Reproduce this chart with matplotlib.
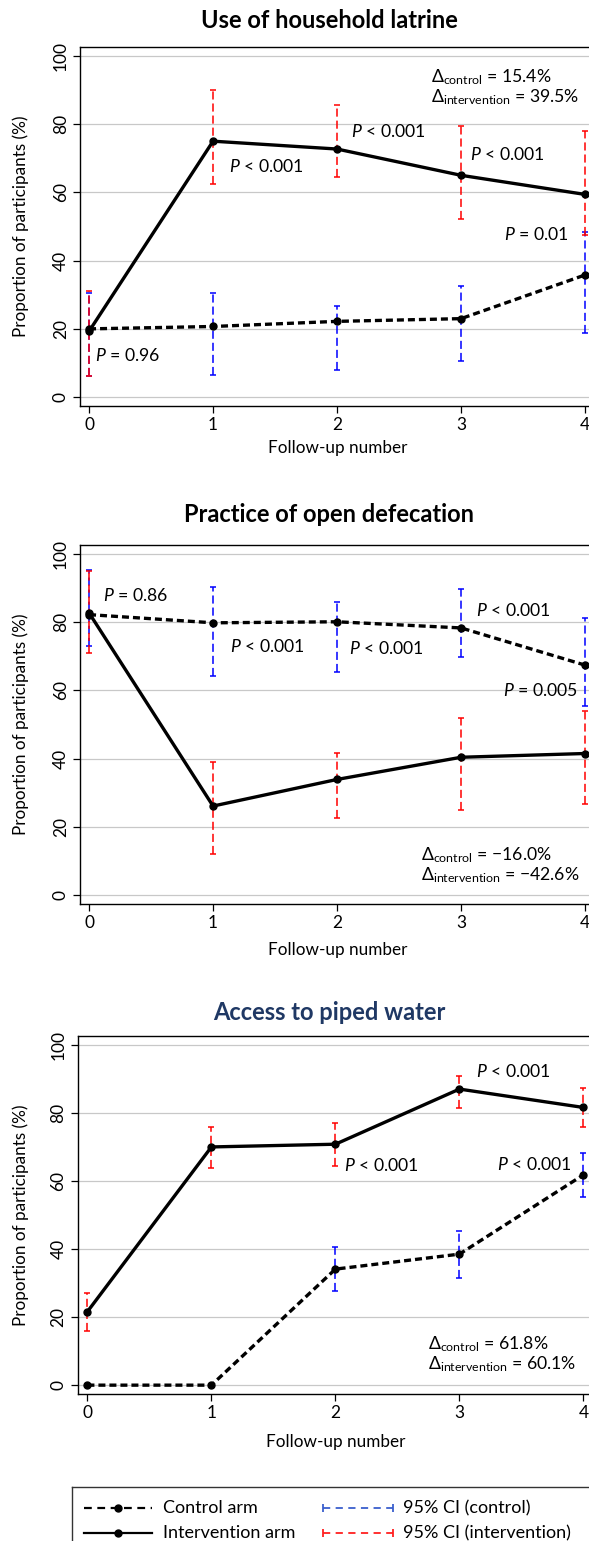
import matplotlib
matplotlib.use("Agg")
import matplotlib.pyplot as plt
import numpy as np

# ---------------------------------------------------------------------------
# Fonts
# ---------------------------------------------------------------------------
plt.rcParams.update({
    "font.family": ["Lato", "DejaVu Sans"],
    "mathtext.fontset": "custom",
    "mathtext.rm": "Lato",
    "mathtext.it": "Lato:italic",
    "mathtext.bf": "Lato:bold",
})

TITLE_SIZE = 17
LABEL_SIZE = 12.3
TICK_SIZE = 12.5
NOTE_SIZE = 12.7
LEGEND_SIZE = 13

COL_CTRL_CI = "#0000ff"
COL_INT_CI = "#ff0000"

# ---------------------------------------------------------------------------
# Data
# ---------------------------------------------------------------------------
follow_up = [0, 1, 2, 3, 4]

# Use of household latrine
latrine_ctrl = [20.0, 20.7, 22.2, 23.0, 35.8]
latrine_ctrl_lo = [6.1, 6.4, 7.9, 10.7, 18.7]
latrine_ctrl_hi = [30.6, 30.4, 26.6, 32.5, 48.4]
latrine_int = [19.3, 75.0, 72.7, 65.0, 59.4]
latrine_int_lo = [6.1, 62.5, 64.5, 52.3, 47.4]
latrine_int_hi = [31.2, 89.9, 85.6, 79.4, 77.9]
latrine_p = ["$P$ = 0.96", "$P$ < 0.001", "$P$ < 0.001", "$P$ < 0.001", "$P$ = 0.01"]
latrine_delta = ["15.4%", "39.5%"]

# Practice of open defecation
opendef_ctrl = [82.2, 79.8, 80.1, 78.3, 67.4]
opendef_ctrl_lo = [72.9, 64.2, 65.4, 69.7, 55.4]
opendef_ctrl_hi = [95.4, 90.3, 85.9, 89.6, 81.3]
opendef_int = [82.7, 26.1, 33.9, 40.4, 41.5]
opendef_int_lo = [71.0, 12.1, 22.7, 24.9, 26.8]
opendef_int_hi = [94.9, 39.1, 41.7, 52.0, 53.9]
opendef_p = ["$P$ = 0.86", "$P$ < 0.001", "$P$ < 0.001", "$P$ < 0.001", "$P$ = 0.005"]
opendef_delta = ["\u221216.0%", "\u221242.6%"]

# Access to piped water
water_ctrl = [0.0, 0.0, 34.1, 38.5, 61.8]
water_ctrl_lo = [np.nan, np.nan, 27.8, 31.6, 55.3]
water_ctrl_hi = [np.nan, np.nan, 40.7, 45.3, 68.3]
water_int = [21.6, 70.0, 70.8, 87.0, 81.6]
water_int_lo = [15.9, 63.8, 64.5, 81.3, 75.9]
water_int_hi = [27.0, 76.0, 76.9, 90.9, 87.2]
water_p = ["$P$ < 0.001", "$P$ < 0.001", "$P$ < 0.001"]
water_delta = ["61.8%", "60.1%"]

# ---------------------------------------------------------------------------
# Layout (pixels of the 589 x 1541 canvas)
# ---------------------------------------------------------------------------
W, H, DPI = 589, 1541, 100
X_UNIT = 124.0          # pixels per follow-up step
YLIM = (-2.6, 102.6)

panels = [
    dict(title="Use of household latrine", title_color="black", title_y=20,
         left=80, top=47, bottom=406, xmin=-0.073, xlabel_y=448,
         ctrl=latrine_ctrl, ctrl_lo=latrine_ctrl_lo, ctrl_hi=latrine_ctrl_hi,
         inter=latrine_int, int_lo=latrine_int_lo, int_hi=latrine_int_hi,
         p=latrine_p, p_pos=[(0.05, 12.1), (1.13, 67.6), (2.11, 77.9), (3.07, 71.1), (3.35, 47.8)],
         delta=latrine_delta, delta_pos=(2.76, 93.8, 87.9)),
    dict(title="Practice of open defecation", title_color="black", title_y=515,
         left=80, top=545, bottom=904, xmin=-0.073, xlabel_y=950,
         ctrl=opendef_ctrl, ctrl_lo=opendef_ctrl_lo, ctrl_hi=opendef_ctrl_hi,
         inter=opendef_int, int_lo=opendef_int_lo, int_hi=opendef_int_hi,
         p=opendef_p, p_pos=[(0.11, 87.9), (1.14, 72.9), (2.10, 72.3), (3.12, 83.5), (3.34, 60.1)],
         delta=opendef_delta, delta_pos=(2.68, 11.6, 5.8)),
    dict(title="Access to piped water", title_color="#1f3864", title_y=1012,
         left=77.5, top=1036, bottom=1394, xmin=-0.08, xlabel_y=1442,
         ctrl=water_ctrl, ctrl_lo=water_ctrl_lo, ctrl_hi=water_ctrl_hi,
         inter=water_int, int_lo=water_int_lo, int_hi=water_int_hi,
         p=water_p, p_pos=[(3.13, 92.2), (2.07, 64.5), (3.30, 64.8)],
         delta=water_delta, delta_pos=(2.75, 12.0, 6.2)),
]

fig = plt.figure(figsize=(W / DPI, H / DPI), dpi=DPI)
fig.patch.set_facecolor("white")


def draw_ci(ax, lo, hi, color):
    lo = np.asarray(lo, dtype=float)
    hi = np.asarray(hi, dtype=float)
    x = np.asarray(follow_up, dtype=float)
    ok = np.isfinite(lo) & np.isfinite(hi)
    mid = (lo[ok] + hi[ok]) / 2
    half = (hi[ok] - lo[ok]) / 2
    eb = ax.errorbar(x[ok], mid, yerr=half, fmt="none", ecolor=color,
                     elinewidth=1.1, capsize=2.3, capthick=1.1, zorder=2)
    eb.lines[2][0].set_linestyle((0, (5.3, 2.6)))


for p in panels:
    xmax = 4.08
    width_px = (xmax - p["xmin"]) * X_UNIT
    height_px = p["bottom"] - p["top"]
    ax = fig.add_axes([p["left"] / W, 1 - p["bottom"] / H, width_px / W, height_px / H])
    ax.set_xlim(p["xmin"], xmax)
    ax.set_ylim(*YLIM)

    ax.yaxis.grid(True, color="#c8c8c8", linewidth=0.9)
    ax.set_axisbelow(True)

    draw_ci(ax, p["ctrl_lo"], p["ctrl_hi"], COL_CTRL_CI)
    draw_ci(ax, p["int_lo"], p["int_hi"], COL_INT_CI)

    ax.plot(follow_up, p["ctrl"], color="black", linewidth=2.4,
            linestyle=(0, (2.1, 1.2)), marker="o", markersize=5, zorder=3)
    ax.plot(follow_up, p["inter"], color="black", linewidth=2.4,
            marker="o", markersize=5, zorder=3)

    for txt, (tx, ty) in zip(p["p"], p["p_pos"]):
        ax.text(tx, ty, txt, fontsize=NOTE_SIZE, ha="left", va="center", zorder=4)
    dx, dy1, dy2 = p["delta_pos"]
    ax.text(dx, dy1, r"$\Delta_{\mathrm{control}}$ = " + p["delta"][0],
            fontsize=NOTE_SIZE, ha="left", va="center")
    ax.text(dx, dy2, r"$\Delta_{\mathrm{intervention}}$ = " + p["delta"][1],
            fontsize=NOTE_SIZE, ha="left", va="center")

    ax.set_xticks(follow_up)
    ax.set_yticks([0, 20, 40, 60, 80, 100])
    ax.tick_params(axis="both", direction="out", length=5, width=0.9,
                   labelsize=TICK_SIZE, pad=3)
    plt.setp(ax.get_yticklabels(), rotation=90, va="center")
    for s in ax.spines.values():
        s.set_linewidth(1.0)
        s.set_color("black")

    ax.set_ylabel("Proportion of participants (%)", fontsize=LABEL_SIZE)
    ax.yaxis.set_label_coords((21 - p["left"]) / width_px, 0.5)
    ax.yaxis.label.set_va("center")
    ax.set_xlabel("Follow-up number", fontsize=LABEL_SIZE)
    ax.xaxis.set_label_coords(0.5, (p["bottom"] - p["xlabel_y"]) / height_px)
    ax.xaxis.label.set_va("center")

    fig.text(329 / W, 1 - p["title_y"] / H, p["title"], fontsize=TITLE_SIZE,
             fontweight="bold", color=p["title_color"], ha="center", va="center")

# ---------------------------------------------------------------------------
# Legend box (bottom, clipped by the canvas edge)
# ---------------------------------------------------------------------------
leg_top, leg_bot = 1487, 1572
axl = fig.add_axes([72 / W, 1 - leg_bot / H, (W - 72 + 20) / W, (leg_bot - leg_top) / H])
axl.set_xlim(72, W + 20)
axl.set_ylim(leg_bot, leg_top)
axl.set_xticks([])
axl.set_yticks([])
for s in axl.spines.values():
    s.set_linewidth(1.0)
    s.set_color("#333333")

row1, row2 = 1508, 1533
axl.plot([84, 152], [row1, row1], color="black", linewidth=1.6, linestyle=(0, (3.5, 2.5)))
axl.plot([118], [row1], "o", color="black", markersize=5)
axl.plot([84, 152], [row2, row2], color="black", linewidth=1.6)
axl.plot([118], [row2], "o", color="black", markersize=5)
axl.text(163, row1, "Control arm", fontsize=LEGEND_SIZE, va="center")
axl.text(163, row2, "Intervention arm", fontsize=LEGEND_SIZE, va="center")

for yy, col, lab in [(row1, "#3a5fcd", "95% CI (control)"),
                     (row2, "#ff2020", "95% CI (intervention)")]:
    axl.plot([323, 393], [yy, yy], color=col, linewidth=1.3, linestyle=(0, (4, 3)))
    axl.plot([323, 393], [yy, yy], "|", color=col, markersize=6, markeredgewidth=1.3)
    axl.text(403, yy, lab, fontsize=LEGEND_SIZE, va="center")

fig.savefig("out.png", dpi=DPI)
